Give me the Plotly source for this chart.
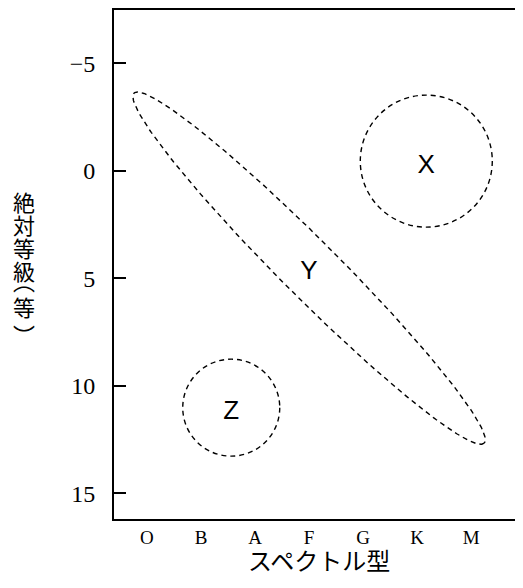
import numpy as np
import plotly.graph_objects as go

# setting (page body has an 8px margin on every side)
OFF = 8
W, H = 523 - OFF, 588 - 2 * OFF
M_L, M_R, M_T, M_B = 114 - OFF, 0, 10 - OFF, 61
X_RANGE = [-0.61, 6.96]
Y_RANGE = [16.2, -7.48]  # reversed (brighter on top)

spectral_types = ["O", "B", "A", "F", "G", "K", "M"]
mag_ticks = [-5, 0, 5, 10, 15]
mag_labels = ["−5", "0", "5", "10", "15"]

# groups: label, center (spectral index, magnitude)
group_names = ["X", "Y", "Z"]
group_x = [5.17, 3.0, 1.56]
group_y = [-0.2, 4.75, 11.25]

# circles (X, Z): radius in pixels of the drawing
circle_cx = [5.17, 1.56]
circle_cy = [-0.45, 11.02]
circle_r_px = [66, 48.5]

# long ellipse (Y): tips in data coords, half width in px
y_tip1 = (-0.24, -3.61)
y_tip2 = (6.24, 12.67)
y_half_width_px = 28.5

# vertical y title, one glyph per row (pixel row of each glyph cell on the page)
# the vertical brackets sit low / high in their cell, hence the shifted rows
ytitle_chars = ["絶", "対", "等", "級", "︵", "等", "︶"]
ytitle_rows = [201, 224, 247, 270, 280, 306, 334]

# px per data unit from the layout
plot_w = W - M_L - M_R
plot_h = H - M_T - M_B
px_x = plot_w / (X_RANGE[1] - X_RANGE[0])
px_y = plot_h / (Y_RANGE[0] - Y_RANGE[1])


def paper_x(px):
    return (px - OFF - M_L) / plot_w


def paper_y(py):
    return 1 - (py - OFF - M_T) / plot_h


fig = go.Figure()

# ellipse Y built in pixel space, converted back to data units
p1 = np.array([y_tip1[0] * px_x, y_tip1[1] * px_y])
p2 = np.array([y_tip2[0] * px_x, y_tip2[1] * px_y])
c = (p1 + p2) / 2
u = (p2 - p1) / np.linalg.norm(p2 - p1)
v = np.array([-u[1], u[0]])
a = np.linalg.norm(p2 - p1) / 2
t = np.linspace(0, 2 * np.pi, 300)
pts = c[:, None] + np.outer(u, a * np.cos(t)) + np.outer(v, y_half_width_px * np.sin(t))
fig.add_trace(go.Scatter(x=pts[0] / px_x, y=pts[1] / px_y, mode="lines",
                         line=dict(color="black", width=1.4, dash="5px,4px"),
                         hoverinfo="skip", showlegend=False))

# circles X and Z
for cx, cy, r in zip(circle_cx, circle_cy, circle_r_px):
    fig.add_shape(type="circle", xref="x", yref="y",
                  x0=cx - r / px_x, x1=cx + r / px_x, y0=cy - r / px_y, y1=cy + r / px_y,
                  line=dict(color="black", width=1.4, dash="5px,4px"))

# labels
fig.add_trace(go.Scatter(x=group_x, y=group_y, mode="text", text=group_names,
                         textfont=dict(family="Liberation Sans", size=26, color="black"),
                         hoverinfo="skip", showlegend=False))

# y title, glyph by glyph
for ch, row in zip(ytitle_chars, ytitle_rows):
    fig.add_annotation(text=ch, xref="paper", yref="paper", x=paper_x(24), y=paper_y(row),
                       xanchor="center", yanchor="middle", showarrow=False,
                       font=dict(family="Noto Sans CJK JP", size=22, color="black"))

# x title
fig.add_annotation(text="スペクトル型", xref="paper", yref="paper",
                   x=paper_x(319), y=paper_y(559),
                   xanchor="center", yanchor="middle", showarrow=False,
                   font=dict(family="Noto Sans CJK JP", size=24, color="black"))

fig.update_layout(
    width=W, height=H,
    margin=dict(l=M_L, r=M_R, t=M_T, b=M_B),
    paper_bgcolor="white", plot_bgcolor="white",
    xaxis=dict(range=X_RANGE, tickvals=list(range(len(spectral_types))), ticktext=spectral_types,
               showgrid=False, zeroline=False, showline=True, linecolor="black", linewidth=2,
               mirror=True, ticks="", ticklabelstandoff=0, automargin=False,
               tickfont=dict(family="Liberation Serif", size=19, color="black")),
    yaxis=dict(range=Y_RANGE, tickvals=mag_ticks, ticktext=mag_labels,
               showgrid=False, zeroline=False, showline=True, linecolor="black", linewidth=2,
               ticks="inside", ticklen=12, tickwidth=1.5, tickcolor="black", ticklabelstandoff=12,
               automargin=False,
               tickfont=dict(family="Liberation Serif", size=24, color="black")),
)

fig.write_html("out.html")
